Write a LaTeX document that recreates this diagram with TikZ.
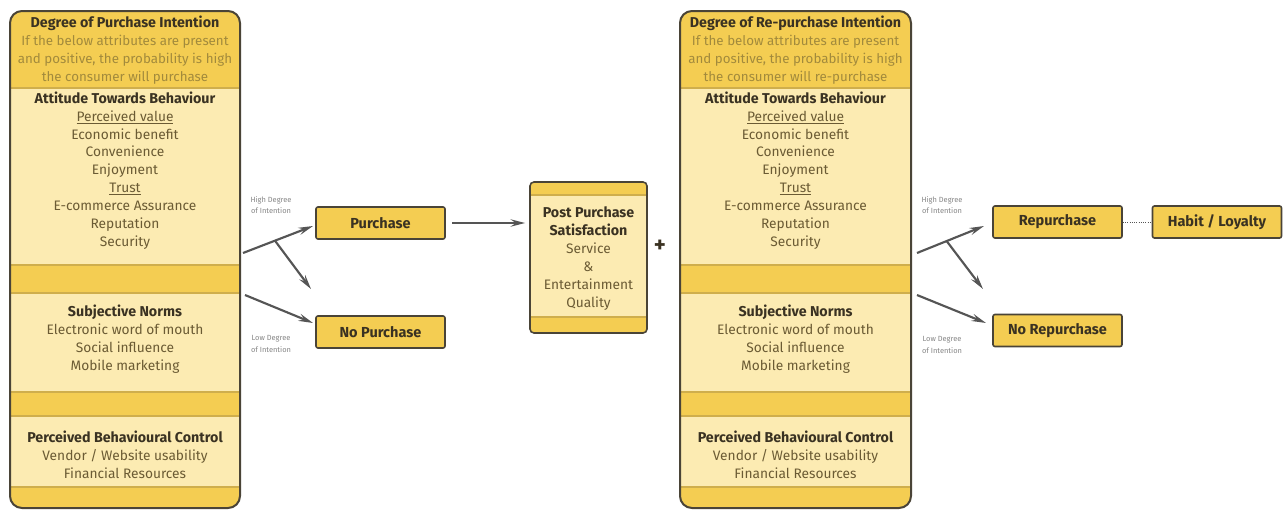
\documentclass[tikz,border=0pt]{standalone}
\usepackage{fontspec}
\setmainfont{Fira Sans}
\usetikzlibrary{arrows.meta,fit}
\definecolor{bandD}{HTML}{F4CD52}
\definecolor{bandL}{HTML}{FCEBB2}
\definecolor{edge}{HTML}{4A4437}
\definecolor{sepc}{HTML}{CFAE4C}
\definecolor{head}{HTML}{3A3222}
\definecolor{bodyc}{HTML}{6B5B34}
\definecolor{subc}{HTML}{A28A3C}
\definecolor{arr}{HTML}{555555}
\definecolor{lbl}{HTML}{858585}
\newcommand\hb[1]{\textcolor{head}{\fontsize{10.7}{13.4}\selectfont\bfseries #1}}
\newcommand\sbt[1]{\textcolor{subc}{\fontsize{10}{13.4}\selectfont #1}}
\newcommand\mycol[3]{%
  \begin{scope}
    \clip[rounded corners=9pt] (#1,11) rectangle (#2,508);
    \fill[bandL] (#1,11) rectangle (#2,508);
    \fill[bandD] (#1,11) rectangle (#2,88);
    \fill[bandD] (#1,265) rectangle (#2,293);
    \fill[bandD] (#1,392) rectangle (#2,416);
    \fill[bandD] (#1,487) rectangle (#2,508);
    \draw[sepc,line width=0.8pt] (#1,88) -- (#2,88) (#1,265) -- (#2,265)
      (#1,293) -- (#2,293) (#1,392) -- (#2,392) (#1,416) -- (#2,416) (#1,487) -- (#2,487);
  \end{scope}
  \node[draw=edge,line width=1.5pt,rounded corners=9pt,fit={(#1,11) (#2,508)},inner sep=0pt] (#3) {};
}
\begin{document}
\begin{tikzpicture}[x=0.75pt,y=-0.75pt,
  txt/.style={align=center,text=bodyc,font=\fontsize{10.3}{13.4}\selectfont,inner sep=0pt},
  outbox/.style={draw=edge,fill=bandD,line width=1.2pt,rounded corners=1.5pt,minimum width=96.75pt,minimum height=24pt,inner sep=0pt,text=head,font=\bfseries\fontsize{10.9}{12}\selectfont},
  tiny/.style={align=center,text=lbl,font=\fontsize{5.6}{8.4}\selectfont,inner sep=0pt},
  arrow/.style={draw=arr,line width=1.6pt,-{Stealth[length=11pt,width=5.5pt,inset=4pt]}}]
\useasboundingbox (0,0) rectangle (1283,511);
\fill[white] (0,0) rectangle (1283,511);

% ---------- left column ----------
\mycol{10}{240}{L}
\node[txt] (Lh) at (125,50) {\hb{Degree of Purchase Intention}\\
  \sbt{If the below attributes are present}\\
  \sbt{and positive, the probability is high}\\
  \sbt{the consumer will purchase}};
\node[txt] (La) at (125,170.5) {\hb{Attitude Towards Behaviour}\\
  \underline{Perceived value}\\ Economic benefit\\ Convenience\\ Enjoyment\\
  \underline{Trust}\\ E-commerce Assurance\\ Reputation\\ Security};
\node[txt] (Ls) at (125,339) {\hb{Subjective Norms}\\
  Electronic word of mouth\\ Social influence\\ Mobile marketing};
\node[txt] (Lp) at (125,454.5) {\hb{Perceived Behavioural Control}\\
  Vendor / Website usability\\ Financial Resources};

% ---------- right column ----------
\mycol{680}{911}{R}
\node[txt] (Rh) at (795.5,50) {\hb{Degree of Re-purchase Intention}\\
  \sbt{If the below attributes are present}\\
  \sbt{and positive, the probability is high}\\
  \sbt{the consumer will re-purchase}};
\node[txt] (Ra) at (795.5,170.5) {\hb{Attitude Towards Behaviour}\\
  \underline{Perceived value}\\ Economic benefit\\ Convenience\\ Enjoyment\\
  \underline{Trust}\\ E-commerce Assurance\\ Reputation\\ Security};
\node[txt] (Rs) at (795.5,339) {\hb{Subjective Norms}\\
  Electronic word of mouth\\ Social influence\\ Mobile marketing};
\node[txt] (Rp) at (795.5,454.5) {\hb{Perceived Behavioural Control}\\
  Vendor / Website usability\\ Financial Resources};

% ---------- outcome boxes ----------
\node[outbox] (pur) at (380.5,223) {Purchase};
\node[outbox] (nopur) at (380.5,332) {No Purchase};
\node[outbox] (rep) at (1057.5,222) {Repurchase};
\node[outbox] (norep) at (1057.5,330.5) {No Repurchase};
\node[outbox] (hab) at (1217,222) {Habit / Loyalty};

% ---------- post purchase box ----------
\begin{scope}
  \clip[rounded corners=3pt] (530,182) rectangle (647,333);
  \fill[bandL] (530,182) rectangle (647,333);
  \fill[bandD] (530,182) rectangle (647,195);
  \fill[bandD] (530,317) rectangle (647,333);
  \draw[sepc,line width=0.8pt] (530,195) -- (647,195) (530,317) -- (647,317);
\end{scope}
\node[draw=edge,line width=1.2pt,rounded corners=3pt,fit={(530,182) (647,333)},inner sep=0pt] (post) {};
\node[txt] (postt) at (588.5,258.5) {\hb{Post Purchase}\\
  \hb{Satisfaction}\\ Service\\ \&\\ Entertainment\\ Quality};
\node[text=head,font=\bfseries\fontsize{17}{17}\selectfont,inner sep=0pt] (plus) at (660,246) {+};

% ---------- connectors ----------
\coordinate (a1s) at (243,253); \coordinate (a1e) at (313,226);
\coordinate (b1s) at (275,240.7); \coordinate (b1e) at (311,289);
\coordinate (c1s) at (245,295); \coordinate (c1e) at (313,323);
\draw[arrow] (a1s) -- (a1e);
\draw[arrow] (b1s) -- (b1e);
\draw[arrow] (c1s) -- (c1e);
\draw[arrow] ([xshift=5pt]pur.east) -- ([xshift=-3pt]post.west |- pur.east);

\coordinate (a2s) at (917,253); \coordinate (a2e) at (984,226);
\coordinate (b2s) at (947,241.5); \coordinate (b2e) at (983,289);
\coordinate (c2s) at (917,295); \coordinate (c2e) at (986,323);
\draw[arrow] (a2s) -- (a2e);
\draw[arrow] (b2s) -- (b2e);
\draw[arrow] (c2s) -- (c2e);
\draw[arr,line width=0.7pt,densely dotted] (rep.east) -- (hab.west);

% ---------- small labels ----------
\node[tiny] (hl1) at (271,205) {High Degree\\of Intention};
\node[tiny] (ll1) at (271,344) {Low Degree\\of Intention};
\node[tiny] (hl2) at (942,205) {High Degree\\of Intention};
\node[tiny] (ll2) at (942,345) {Low Degree\\of Intention};
\end{tikzpicture}
\end{document}
